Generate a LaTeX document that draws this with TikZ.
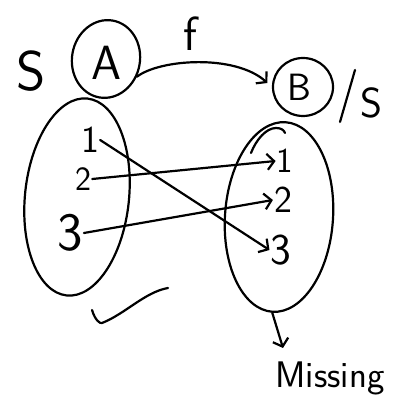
\documentclass[tikz,border=0pt]{standalone}
\usepackage{fontspec}
\usetikzlibrary{arrows.meta,shapes.geometric}
\begin{document}
\begin{tikzpicture}[x=1pt,y=1pt,
  ink/.style={line width=2.2pt,line cap=round,line join=round,black},
  arr/.style={ink,-{Straight Barb[length=7pt,width=16pt,line width=2.2pt]}},
  lbl/.style={inner sep=1pt,font=\sffamily},
  blob/.style={ink,draw,ellipse,inner sep=0pt}]
\useasboundingbox (0,0) rectangle (403,404);
% labels top
\node[lbl,font=\sffamily\fontsize{56}{56}\selectfont] (S1) at (31,333) {S};
\node[blob,minimum width=68pt,minimum height=78pt,rotate=-10] (A) at (106,345) {};
\node[lbl,font=\sffamily\fontsize{48}{48}\selectfont] (Alab) at (106,341) {A};
\node[lbl,font=\sffamily\fontsize{48}{48}\selectfont] (f) at (190,370) {f};
\node[blob,minimum width=60pt,minimum height=58pt] (B) at (303,317) {};
\node[lbl,font=\sffamily\fontsize{38}{38}\selectfont] (Blab) at (299,317) {B};
\coordinate (sl1) at (355,334);
\coordinate (sl2) at (340,282);
\draw[ink] (sl1) -- (sl2);
\node[lbl,font=\sffamily\fontsize{42}{42}\selectfont] (S2) at (371,301) {S};
% big ellipses
\node[blob,minimum width=104pt,minimum height=198pt,rotate=-6] (L) at (77,207) {};
\node[blob,minimum width=108pt,minimum height=190pt,rotate=-4] (R) at (279,187) {};
\coordinate (h1) at (251,251);
\coordinate (h2) at (276,276);
\coordinate (h3) at (285,271);
\draw[ink] (h1) .. controls (256,264) and (266,276) .. (h2) .. controls (281,276) and (284,274) .. (h3);
% numbers
\node[lbl,font=\sffamily\fontsize{38}{38}\selectfont] (l1) at (90,264) {1};
\node[lbl,font=\sffamily\fontsize{34}{34}\selectfont] (l2) at (83,225) {2};
\node[lbl,font=\sffamily\fontsize{54}{54}\selectfont] (l3) at (70,171) {3};
\node[lbl,font=\sffamily\fontsize{35}{35}\selectfont] (r1) at (285,243) {1};
\node[lbl,font=\sffamily\fontsize{38}{38}\selectfont] (r2) at (283,204) {2};
\node[lbl,font=\sffamily\fontsize{44}{44}\selectfont] (r3) at (281,154) {3};
% mapping arrows
\draw[arr] (l1.east) -- (r3.west);
\draw[arr] (l2.east) -- (r1.west);
\draw[arr] (l3.east) -- (r2.west);
% f arrow
\draw[arr,shorten >=6pt] (A.-20) .. controls (160,345) and (235,350) .. (B.west);
% check mark
\coordinate (c1) at (92,94);
\coordinate (c2) at (102,81);
\coordinate (c3) at (168,116);
\draw[ink] (c1) .. controls (95,84) and (100,80) .. (c2) .. controls (125,90) and (145,112) .. (c3);
% missing
\coordinate (m) at (283,56);
\draw[arr] (R.south) -- (m);
\node[lbl,font=\sffamily\fontsize{37}{37}\selectfont] (miss) at (330,26) {Missing};
\end{tikzpicture}
\end{document}
